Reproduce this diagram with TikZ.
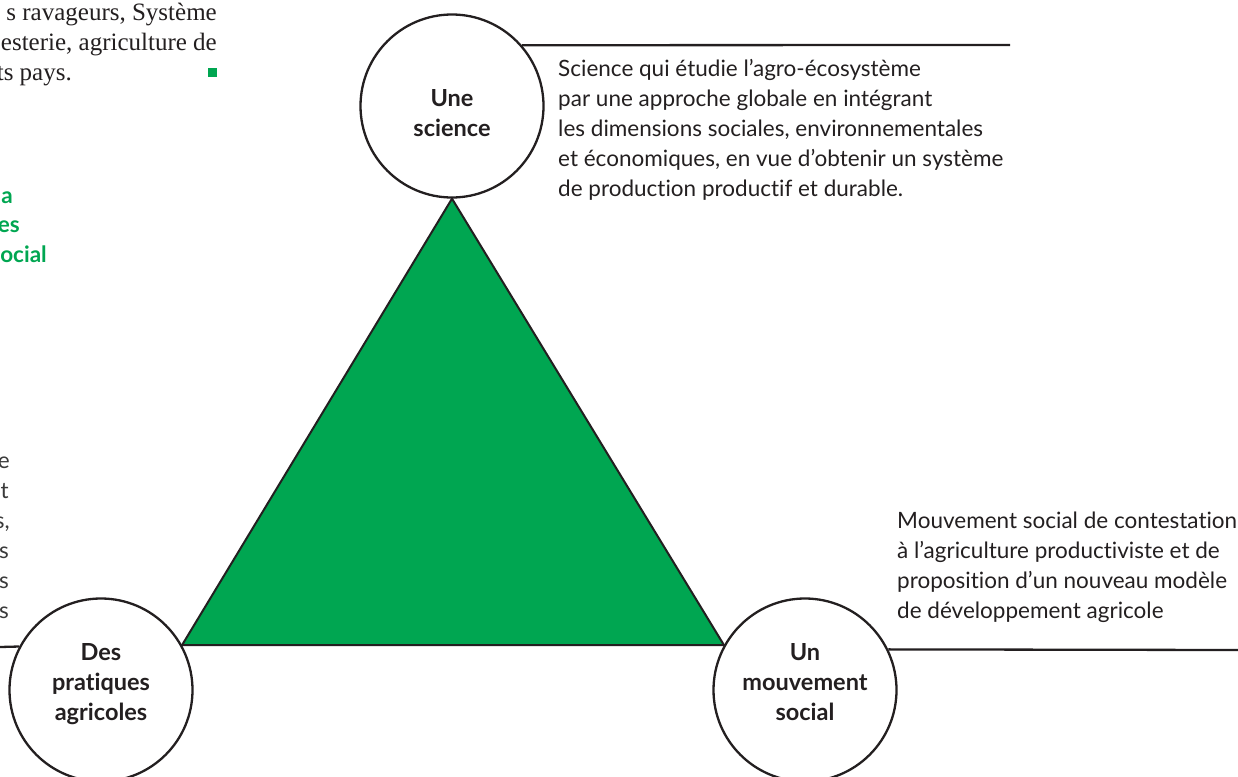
\documentclass[tikz,border=0pt]{standalone}
\usepackage{fontspec}
\setmainfont{Lato}[Ligatures=NoCommon]
\newfontfamily\serifpart{Liberation Serif}
\definecolor{agreen}{HTML}{00A651}
\definecolor{ink}{HTML}{231F20}
\definecolor{greytext}{HTML}{3A3A3A}
\tikzset{
  ring/.style={circle, draw=ink, line width=2.3pt, fill=white, minimum size=183pt, inner sep=0pt},
  lab/.style={anchor=base, inner sep=0pt, text=ink, font=\bfseries\fontsize{23.5}{30}\selectfont},
  desc/.style={anchor=base west, inner sep=0pt, text=ink, font=\fontsize{22.5}{30}\selectfont},
  rule/.style={draw=ink, line width=2.3pt},
  sertext/.style={anchor=base east, inner sep=0pt, text=ink, font=\serifpart\fontsize{25}{30}\selectfont},
  grfrag/.style={anchor=base east, inner sep=0pt, text=agreen, font=\bfseries\fontsize{22.5}{30}\selectfont},
  gyfrag/.style={anchor=base east, inner sep=0pt, text=greytext, font=\fontsize{22.5}{30}\selectfont}
}
\begin{document}
\begin{tikzpicture}[x=1pt,y=-1pt]
\useasboundingbox (0,0) rectangle (1238,776);
\clip (0,0) rectangle (1238,776);
% circles
\node[ring] (sci) at (452,106) {};
\node[ring] (pra) at (101,690) {};
\node[ring] (mov) at (805,690) {};
% triangle
\filldraw[fill=agreen, draw=ink, line width=2pt, line join=miter] (sci.south) -- (mov.151) -- (pra.29) -- cycle;
% rules
\coordinate (lend) at (0,647);
\coordinate (rend) at (1238,650);
\coordinate (tend) at (1010,45);
\draw[rule] (lend) -- (pra.152);
\draw[rule] (mov.26) -- (rend);
\draw[rule] (sci.41.5) -- (tend);
% circle labels
\node[lab] (l1) at (452,106) {Une};
\node[lab] (l2) at (452,136) {science};
\node[lab] (l3) at (101,660) {Des};
\node[lab] (l4) at (101,690) {pratiques};
\node[lab] (l5) at (101,720) {agricoles};
\node[lab] (l6) at (805,660) {Un};
\node[lab] (l7) at (805,690) {mouvement};
\node[lab] (l8) at (805,720) {social};
% descriptions
\node[desc] (d1) at (558,76) {Science qui étudie l’agro-écosystème};
\node[desc] (d2) at (558,106) {par une approche globale en intégrant};
\node[desc] (d3) at (558,136) {les dimensions sociales, environnementales};
\node[desc] (d4) at (558,166) {et économiques, en vue d’obtenir un système};
\node[desc] (d5) at (558,196) {de production productif et durable.};
\node[desc] (e1) at (897,528) {Mouvement social de contestation};
\node[desc] (e2) at (897,558) {à l’agriculture productiviste et de};
\node[desc] (e3) at (897,588) {proposition d’un nouveau modèle};
\node[desc] (e4) at (897,618) {de développement agricole};
% serif fragments top-left
\node[sertext] (s1) at (217,21) {s ravageurs, Système};
\node[sertext] (s2) at (217,51) {esterie, agriculture de};
\node[sertext] (s3) at (72,81) {ts pays.};
\fill[agreen] (207.5,67.5) rectangle (216.5,76.5);
% green fragments
\node[grfrag] (g1) at (13,203) {a};
\node[grfrag] (g2) at (20,232) {es};
\node[grfrag] (g3) at (47,262) {ocial};
% grey fragments
\node[gyfrag] (f1) at (10,468) {e};
\node[gyfrag] (f2) at (9,498) {t};
\node[gyfrag] (f3) at (10,528) {s,};
\node[gyfrag] (f4) at (9,558) {s};
\node[gyfrag] (f5) at (9,588) {s};
\node[gyfrag] (f6) at (9,618) {s};
\end{tikzpicture}
\end{document}
